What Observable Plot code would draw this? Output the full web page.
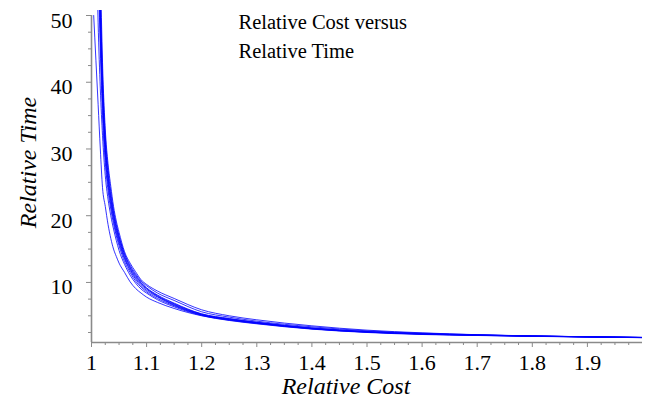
<!DOCTYPE html>
<html>
<head>
<meta charset="utf-8">
<script src="https://cdn.jsdelivr.net/npm/d3@7"></script>
<script src="https://cdn.jsdelivr.net/npm/@observablehq/plot@0.6"></script>
<style>
  body { margin: 0; background: #fff; }
  #chart svg, #chart svg text { font-family: "Liberation Serif", "Times New Roman", serif !important; }
</style>
</head>
<body>
<div id="chart"></div>
<script>
// Relative cost (x) sample points shared by all curves
const cost = [1.004, 1.008, 1.012, 1.016, 1.02, 1.025, 1.03, 1.035, 1.04, 1.045, 1.05, 1.06, 1.07, 1.08, 1.09, 1.1, 1.12, 1.15, 1.2, 1.25, 1.3, 1.4, 1.5, 1.6, 1.7, 1.8, 1.9, 2.0];

// Relative time for each curve
const s1 = [50, 43.3, 36.7, 30, 24.2, 21.4, 18.7, 16.6, 15, 13.9, 12.9, 11.5, 10.1, 9.1, 8.4, 7.8, 7.0, 6.1, 5.0, 4.3, 3.8, 3.0, 2.5, 2.2, 2.05, 1.92, 1.82, 1.72];
const s2 = [85, 65, 49, 39, 32, 26, 22.5, 20, 18.0, 16.3, 14.8, 12.7, 11.1, 9.9, 9.0, 8.4, 7.4, 6.35, 5.05, 4.35, 3.85, 3.05, 2.55, 2.25, 2.07, 1.94, 1.83, 1.73];
const s3 = [100, 78, 59, 45, 35, 28, 23.8, 21, 18.8, 17.0, 15.5, 13.1, 11.5, 10.2, 9.3, 8.6, 7.6, 6.5, 5.1, 4.4, 3.9, 3.05, 2.55, 2.27, 2.08, 1.95, 1.84, 1.74];
const s4 = [108, 84, 63, 47, 37, 29, 24.6, 21.6, 19.3, 17.4, 15.9, 13.5, 11.8, 10.5, 9.5, 8.8, 7.8, 6.6, 5.15, 4.45, 3.93, 3.08, 2.58, 2.28, 2.1, 1.96, 1.85, 1.75];
const s5 = [115, 88, 66, 49, 38, 30, 25.2, 22.1, 19.7, 17.8, 16.2, 13.7, 12.0, 10.7, 9.7, 9.0, 7.9, 6.7, 5.2, 4.5, 3.97, 3.12, 2.6, 2.3, 2.1, 1.96, 1.85, 1.75];
const s6 = [120, 92, 68, 51, 39, 30.5, 25.8, 22.6, 20.1, 18.1, 16.5, 13.9, 12.2, 10.9, 9.9, 9.1, 8.0, 6.8, 5.25, 4.55, 4.0, 3.15, 2.62, 2.3, 2.12, 1.97, 1.86, 1.75];
const s7 = [125, 95, 70, 52, 40, 31, 26.3, 23, 20.4, 18.4, 16.8, 14.2, 12.4, 11.1, 10.0, 9.2, 8.1, 6.9, 5.3, 4.6, 4.05, 3.2, 2.65, 2.33, 2.13, 1.97, 1.86, 1.76];
const s8 = [130, 98, 74, 54, 41, 32, 27, 23.6, 20.8, 18.7, 17.0, 14.3, 12.6, 11.3, 10.2, 9.5, 8.4, 7.3, 5.6, 4.8, 4.2, 3.35, 2.75, 2.4, 2.15, 1.97, 1.85, 1.75];
const s9 = [140, 105, 80, 58, 43, 33, 27.8, 24.4, 21.4, 19.2, 17.5, 14.6, 12.9, 11.6, 10.4, 9.7, 8.7, 7.6, 5.9, 5.0, 4.4, 3.5, 2.85, 2.45, 2.17, 1.98, 1.86, 1.76];

// Axes
const xDomain = [1, 2];
const yDomain = [1, 50];
const xMajor = [1, 1.1, 1.2, 1.3, 1.4, 1.5, 1.6, 1.7, 1.8, 1.9];
const xMinor = [1.025, 1.05, 1.075, 1.125, 1.15, 1.175, 1.225, 1.25, 1.275, 1.325, 1.35, 1.375, 1.425, 1.45, 1.475, 1.525, 1.55, 1.575, 1.625, 1.65, 1.675, 1.725, 1.75, 1.775, 1.825, 1.85, 1.875, 1.925, 1.95, 1.975];
const yMajor = [10, 20, 30, 40, 50];
const yMinor = [2.5, 5, 7.5, 12.5, 15, 17.5, 22.5, 25, 27.5, 32.5, 35, 37.5, 42.5, 45, 47.5];

const title = "Relative Cost versus\nRelative Time";
const xLabel = "Relative Cost";
const yLabel = "Relative Time";

const seriesList = [s1, s2, s3, s4, s5, s6, s7, s8, s9];
const data = seriesList.flatMap((s, i) => s.map((t, j) => ({series: i, cost: cost[j], time: t})));

const axisColor = "#8a8a8a";
const serif = "Liberation Serif";

const chart = Plot.plot({
  width: 651,
  height: 400,
  marginLeft: 91,
  marginRight: 9,
  marginTop: 10,
  marginBottom: 58,
  style: {fontFamily: serif, background: "#fff", color: "black"},
  x: {domain: xDomain, axis: null},
  y: {domain: [yDomain[0], yDomain[1] + 0.75], axis: null},
  marks: [
    Plot.line(data, {x: "cost", y: "time", z: "series", stroke: "#0000ff", strokeWidth: 0.8, curve: "monotone-x", clip: true}),
    // axis lines
    Plot.ruleY([yDomain[0]], {x1: xDomain[0], x2: xDomain[1], stroke: axisColor, strokeWidth: 1.6}),
    Plot.ruleX([xDomain[0]], {y1: yDomain[0], y2: yDomain[1], stroke: axisColor, strokeWidth: 1.6}),
    // x ticks
    Plot.axisX(xMinor, {anchor: "bottom", tickSize: 3, fill: "none", stroke: axisColor, label: null}),
    Plot.axisX(xMajor, {anchor: "bottom", tickSize: 5, fill: "none", stroke: axisColor, label: null}),
    Plot.text(xMajor, {x: d => d, text: d => String(d), frameAnchor: "bottom", textAnchor: "middle", lineAnchor: "top", dy: 12, fontSize: 22, fontFamily: serif, fill: "black"}),
    // y ticks
    Plot.axisY(yMinor, {anchor: "left", tickSize: 3, fill: "none", stroke: axisColor, label: null}),
    Plot.axisY(yMajor, {anchor: "left", tickSize: 5, fill: "none", stroke: axisColor, label: null}),
    Plot.text(yMajor, {y: d => d, text: d => String(d), frameAnchor: "left", textAnchor: "end", lineAnchor: "middle", dx: -19, dy: 5, fontSize: 22, fontFamily: serif, fill: "black"}),
    // labels
    Plot.text([xLabel], {frameAnchor: "bottom", textAnchor: "middle", lineAnchor: "middle", dx: -21, dy: 44, fontSize: 24, fontStyle: "italic", fontFamily: serif, fill: "black"}),
    Plot.text([yLabel], {frameAnchor: "left", textAnchor: "middle", lineAnchor: "middle", rotate: -90, dx: -63, dy: -14, fontSize: 24, fontStyle: "italic", fontFamily: serif, fill: "black"}),
    Plot.text([title], {frameAnchor: "top-left", textAnchor: "start", lineAnchor: "top", lineHeight: 1.4, dx: 147, dy: -2, fontSize: 20.5, fontFamily: serif, fill: "black"})
  ]
});
document.getElementById("chart").appendChild(chart);
</script>
</body>
</html>
